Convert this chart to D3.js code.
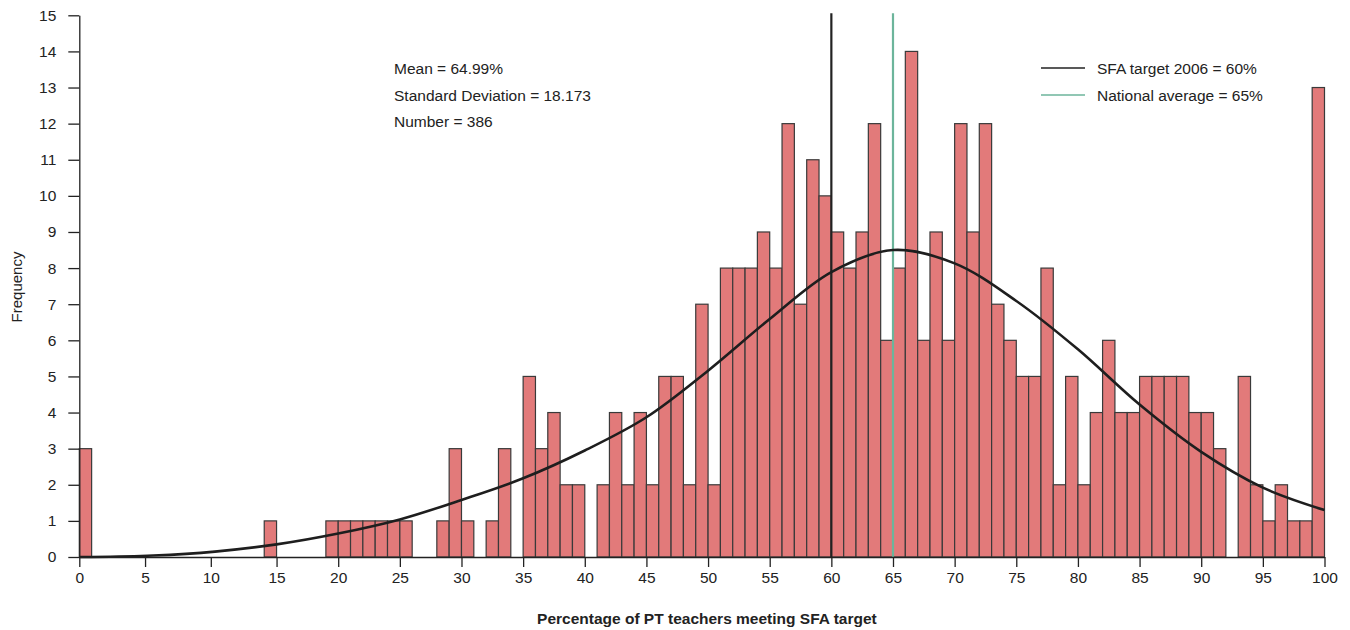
<!DOCTYPE html>
<html>
<head>
<meta charset="utf-8">
<script src="https://cdn.jsdelivr.net/npm/d3@7"></script>
<style>
  html, body { margin: 0; padding: 0; background: #fff; }
  svg { display: block; font-family: "Liberation Sans", Arial, Helvetica, sans-serif; }
</style>
</head>
<body>
<svg id="chart" width="1350" height="630"></svg>
<script>
// Histogram: number of schools by percentage of PT teachers meeting the SFA target.
// Each bin value v covers the interval (v-1, v].
const binValues = d3.range(0, 101);
const frequencies = [
  3, 0, 0, 0, 0, 0, 0, 0, 0, 0,      // 0-9
  0, 0, 0, 0, 0, 1, 0, 0, 0, 0,      // 10-19
  1, 1, 1, 1, 1, 1, 1, 0, 0, 1,      // 20-29
  3, 1, 0, 1, 3, 0, 5, 3, 4, 2,      // 30-39
  2, 0, 2, 4, 2, 4, 2, 5, 5, 2,      // 40-49
  7, 2, 8, 8, 8, 9, 8, 12, 7, 11,    // 50-59
  10, 9, 8, 9, 12, 6, 8, 14, 6, 9,   // 60-69
  6, 12, 9, 12, 7, 6, 5, 5, 8, 2,    // 70-79
  5, 2, 4, 6, 4, 4, 5, 5, 5, 5,      // 80-89
  4, 4, 3, 0, 5, 2, 1, 2, 1, 1,      // 90-99
  13                                 // 100
];

// Fitted distribution curve (frequency at each percentage)
const curveX = [-1, 0, 5, 10, 15, 20, 25, 30, 35, 40, 45, 50, 55, 60, 65, 70, 75, 80, 85, 90, 95, 100];
const curveY = [0, 0, 0.04, 0.15, 0.35, 0.65, 1.04, 1.58, 2.18, 2.95, 3.87, 5.16, 6.59, 7.89, 8.5, 8.13, 7.09, 5.75, 4.22, 2.91, 1.92, 1.3];

// Reference lines and annotation text
const refLines = [
  { label: "SFA target 2006 = 60%", value: 60, color: "#222222" },
  { label: "National average = 65%", value: 65, color: "#6cb59b" }
];
const statsText = ["Mean = 64.99%", "Standard Deviation = 18.173", "Number = 386"];
const xTicks = d3.range(0, 101, 5);
const yTicks = d3.range(0, 16, 1);

const svg = d3.select("#chart");
const plotLeft = 79.3, plotRight = 1324.5, plotTop = 15.3, plotBottom = 557;

const x = d3.scaleLinear().domain([-1, 100]).range([plotLeft, plotRight]);
const y = d3.scaleLinear().domain([0, 15]).range([plotBottom, plotTop]);
// axis labels: 0 sits at the left edge of the first bin
const xAxisScale = d3.scaleLinear().domain([0, 15, 100]).range([x(-1), x(15), x(100)]);

const data = binValues.map(v => ({ v, f: frequencies[v] }));

// bars
svg.append("g")
  .selectAll("rect")
  .data(data.filter(d => d.f > 0))
  .join("rect")
  .attr("x", d => x(d.v - 1))
  .attr("width", d => x(d.v) - x(d.v - 1))
  .attr("y", d => y(d.f))
  .attr("height", d => y(0) - y(d.f))
  .attr("fill", "#e27a7a")
  .attr("stroke", "#3a3a3a")
  .attr("stroke-width", 1.2);

// reference lines
svg.append("g")
  .selectAll("line")
  .data(refLines)
  .join("line")
  .attr("x1", d => x(d.value)).attr("x2", d => x(d.value))
  .attr("y1", y(15) - 2).attr("y2", y(0))
  .attr("stroke", d => d.color)
  .attr("stroke-width", 2.2);

// fitted curve
const curvePts = curveX.map((v, i) => [v, curveY[i]]);
svg.append("path")
  .datum(curvePts)
  .attr("fill", "none")
  .attr("stroke", "#1e1e1e")
  .attr("stroke-width", 2.6)
  .attr("d", d3.line().x(d => x(d[0])).y(d => y(d[1])).curve(d3.curveCatmullRom.alpha(0.5)));

// axes
const xAxis = svg.append("g")
  .attr("transform", `translate(0,${plotBottom})`)
  .call(d3.axisBottom(xAxisScale).tickValues(xTicks).tickSize(10).tickSizeOuter(0).tickPadding(5));
const yAxis = svg.append("g")
  .attr("transform", `translate(${plotLeft},0)`)
  .call(d3.axisLeft(y).tickValues(yTicks).tickSize(11).tickSizeOuter(0).tickPadding(12));

[xAxis, yAxis].forEach(g => {
  g.selectAll("path.domain").attr("stroke", "#222").attr("stroke-width", 1.3);
  g.selectAll(".tick line").attr("stroke", "#222").attr("stroke-width", 1.3);
  g.selectAll(".tick text").attr("fill", "#222").style("font-size", "15.5px")
    .style("font-family", "'Liberation Sans', Arial, sans-serif");
});

// axis titles
svg.append("text")
  .attr("x", (plotLeft + plotRight) / 2 + 5).attr("y", 624)
  .attr("text-anchor", "middle")
  .attr("font-weight", "bold")
  .attr("font-size", "15.5px")
  .attr("fill", "#222")
  .text("Percentage of PT teachers meeting SFA target");

svg.append("text")
  .attr("transform", "translate(22,287) rotate(-90)")
  .attr("text-anchor", "middle")
  .attr("font-size", "15px")
  .attr("fill", "#222")
  .text("Frequency");

// summary statistics
svg.append("g")
  .selectAll("text")
  .data(statsText)
  .join("text")
  .attr("x", 394)
  .attr("y", (d, i) => 74 + i * 26.5)
  .attr("font-size", "15.5px")
  .attr("fill", "#222")
  .text(d => d);

// legend
const legend = svg.append("g").selectAll("g").data(refLines).join("g")
  .attr("transform", (d, i) => `translate(1041,${68 + i * 27})`);
legend.append("line")
  .attr("x1", 0).attr("x2", 44).attr("y1", 0).attr("y2", 0)
  .attr("stroke", d => d.color).attr("stroke-width", 1.3);
legend.append("text")
  .attr("x", 56).attr("y", 6)
  .attr("font-size", "15.5px")
  .attr("fill", "#222")
  .text(d => d.label);
</script>
</body>
</html>
